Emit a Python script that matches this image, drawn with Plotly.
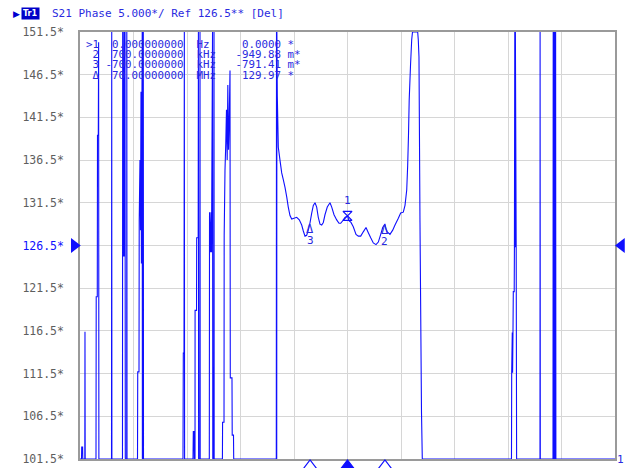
import plotly.graph_objects as go

# ---------------- data ----------------
# stimulus axis: frequency offset from centre, MHz (10 MHz span, 1 MHz/div)
FREQ_MHZ = [
    -5.000, -4.972, -4.968, -4.951, -4.948, -4.910, -4.907, -4.903,
    -4.701, -4.697, -4.677, -4.673, -4.658, -4.652, -4.647,
    -4.411, -4.407, -4.404,
    -4.206, -4.202, -4.187, -4.178, -4.168, -4.159, -4.153, -4.127, -4.125, -4.121,
    -3.925, -3.921, -3.897, -3.893, -3.879, -3.869, -3.860, -3.852, -3.845, -3.837, -3.834,
    -3.819, -3.817, -3.813,
    -3.075, -3.069, -3.056, -3.050, -3.045,
    -2.888, -2.882, -2.869, -2.864, -2.850, -2.849, -2.822, -2.819, -2.791, -2.787, -2.783,
    -2.761, -2.757, -2.753,
    -2.583, -2.579, -2.561, -2.551, -2.542, -2.523, -2.518, -2.499, -2.495, -2.492,
    -2.338, -2.335, -2.308, -2.305, -2.290, -2.275, -2.262, -2.249, -2.237, -2.224, -2.211,
    -2.196, -2.191, -2.159, -2.155, -2.131, -2.127,
    -1.331, -1.327, -1.323, -1.320, -1.312, -1.293, -1.262, -1.230, -1.200, -1.168, -1.136,
    -1.107, -1.075, -1.043, -1.000, -0.950, -0.901, -0.856, -0.826, -0.794, -0.763, -0.733,
    -0.700, -0.669, -0.639, -0.607, -0.576, -0.546, -0.514, -0.482, -0.452, -0.421, -0.378,
    -0.327, -0.295, -0.252, -0.202, -0.159, -0.127, -0.090, -0.047, 0.000, 0.028, 0.065,
    0.108, 0.159, 0.202, 0.247, 0.295, 0.346, 0.389, 0.434, 0.482, 0.533, 0.576, 0.621,
    0.658, 0.700, 0.720, 0.744, 0.794, 0.845, 0.888, 0.950, 0.994, 1.043, 1.075, 1.107,
    1.125, 1.140, 1.153, 1.178, 1.200, 1.215, 1.312, 1.323, 1.336, 1.355, 1.383, 1.398,
    3.065, 3.069, 3.080, 3.086, 3.093, 3.099, 3.116, 3.120, 3.127, 3.135, 3.138, 3.153, 3.161,
    3.598, 3.600, 3.604,
    3.841, 3.845, 3.852, 3.860, 3.867, 3.875, 3.882, 3.890, 3.895,
    5.000,
]
# displayed phase, degrees (instrument clamps to the 101.5 .. 151.5 window)
PHASE_DEG = [
    101.5, 101.5, 102.9, 102.9, 101.5, 101.5, 116.4, 101.5,
    101.5, 120.5, 120.5, 139.4, 139.4, 150.3, 101.5,
    101.5, 151.5, 101.5,
    101.5, 151.5, 125.2, 151.5, 125.2, 151.5, 101.5, 101.5, 151.5, 101.5,
    101.5, 111.7, 111.7, 129.5, 136.5, 128.3, 144.5, 124.4, 138.9, 151.5, 101.5,
    101.5, 151.5, 101.5,
    101.5, 113.9, 113.9, 151.5, 101.5,
    101.5, 104.7, 104.7, 101.5, 101.5, 118.9, 118.9, 127.4, 127.4, 151.5, 101.5,
    101.5, 151.5, 101.5,
    101.5, 130.4, 125.7, 130.4, 125.7, 151.5, 101.5, 101.5, 151.5, 101.5,
    101.5, 105.8, 105.8, 127.7, 135.3, 138.5, 142.4, 136.5, 145.3, 137.7, 141.2,
    147.0, 111.0, 111.0, 104.3, 104.3, 101.5,
    101.5, 151.5, 101.5, 151.5, 144.0, 138.0, 136.5, 135.0, 134.2, 133.3, 132.2,
    131.0, 130.0, 129.6, 129.7, 129.8, 129.5, 128.9, 128.2, 127.6, 127.7, 128.3,
    129.18, 130.3, 131.2, 131.5, 131.0, 129.8, 129.0, 128.9, 129.2, 130.1, 131.0,
    131.5, 131.0, 130.1, 129.5, 129.1, 129.1, 129.4, 129.8, 129.97, 129.4, 129.2,
    128.7, 127.8, 127.6, 127.6, 128.1, 128.6, 128.0, 127.4, 126.8, 126.6, 126.9, 127.8,
    128.6, 129.02, 128.4, 128.1, 127.8, 128.3, 128.9, 129.7, 130.3, 130.4, 131.2, 133.0,
    135.9, 139.4, 143.5, 147.6, 150.6, 151.5, 151.5, 150.6, 148.6, 129.2, 107.0, 101.5,
    101.5, 111.6, 116.3, 111.6, 116.3, 121.1, 121.1, 126.3, 151.5, 126.3, 151.5, 126.3, 101.5,
    101.5, 151.5, 101.5,
    101.5, 151.5, 101.5, 151.5, 101.5, 151.5, 101.5, 151.5, 101.5,
    101.5,
]

# marker readout table
TABLE_NAMES = [">1", "2", "3", "Δ"]
TABLE_STIM = ["0.000000000", "700.0000000", "-700.0000000", "70.00000000"]
TABLE_STIM_UNIT = ["Hz", "kHz", "kHz", "MHz"]
TABLE_VALUE = ["0.0000", "-949.88", "-791.41", "129.97"]
TABLE_VALUE_UNIT = ["*", "m*", "m*", "*"]

MARKER_LABELS = ["1", "2", "3"]
MARKER_FREQ_MHZ = [0.0, 0.7, -0.7]
MARKER_REF_DEG = 129.97
MARKER_DELTA_MDEG = [0.0, -949.88, -791.41]

Y_TICKS = [101.5, 106.5, 111.5, 116.5, 121.5, 126.5, 131.5, 136.5, 141.5, 146.5, 151.5]
REF_LEVEL = 126.5
X_MIN, X_MAX = -5.0, 5.0
Y_MIN, Y_MAX = 101.5, 151.5

TITLE_TEXT = "S21 Phase 5.000*/ Ref 126.5** [Del]"

# ---------------- styling ----------------
W, H = 627, 468
ML, MR, MT, MB = 80, 12, 32, 9          # diagram frame inside the figure
PW, PH = W - ML - MR, H - MT - MB
PX_PER_X = PW / (X_MAX - X_MIN)
PX_PER_Y = PH / (Y_MAX - Y_MIN)
BLUE = "#0f0fff"
TEXT_BLUE = "#2a2ae0"
MONO = "DejaVu Sans Mono"


def px_x(px):
    return px / W


def px_y(py):
    return (H - py) / H


fig = go.Figure()

fig.add_trace(go.Scatter(
    x=FREQ_MHZ, y=PHASE_DEG, mode="lines",
    line=dict(color=BLUE, width=1.1, simplify=False),
    hoverinfo="skip", showlegend=False,
))

marker_vals = [MARKER_REF_DEG + d / 1000.0 for d in MARKER_DELTA_MDEG]

# marker 1 (active reference) symbol
fig.add_trace(go.Scatter(
    x=[MARKER_FREQ_MHZ[0]], y=[marker_vals[0]], mode="markers",
    marker=dict(symbol="hourglass-open", size=9, color=BLUE, line=dict(color=BLUE, width=1.3)),
    hoverinfo="skip", showlegend=False,
))

# full-figure overlay axes with the same scale, for the symbols around the frame
fig.add_trace(go.Scatter(
    x=MARKER_FREQ_MHZ, y=[Y_MIN - 7 / PX_PER_Y] * 3, mode="markers",
    xaxis="x2", yaxis="y2",
    marker=dict(symbol=["triangle-up", "triangle-up-open", "triangle-up-open"], size=12,
                color=BLUE, line=dict(color=BLUE, width=1.2)),
    hoverinfo="skip", showlegend=False,
))
fig.add_trace(go.Scatter(
    x=[X_MIN - 5.75 / PX_PER_X, X_MAX + 6.5 / PX_PER_X], y=[REF_LEVEL, REF_LEVEL],
    mode="markers", xaxis="x2", yaxis="y2",
    marker=dict(symbol=["triangle-right", "triangle-left"], size=13, color=BLUE, line=dict(width=0)),
    hoverinfo="skip", showlegend=False,
))

annotations = []

# marker labels
annotations.append(dict(x=MARKER_FREQ_MHZ[0], y=marker_vals[0], xref="x", yref="y",
                        text=MARKER_LABELS[0], showarrow=False, yanchor="bottom", yshift=7,
                        font=dict(family=MONO, size=11, color=TEXT_BLUE)))
for i in (1, 2):
    annotations.append(dict(x=MARKER_FREQ_MHZ[i], y=marker_vals[i], xref="x", yref="y",
                            text="Δ", showarrow=False, yanchor="top", yshift=2, borderpad=0,
                            font=dict(family=MONO, size=12, color=TEXT_BLUE)))
    annotations.append(dict(x=MARKER_FREQ_MHZ[i], y=marker_vals[i], xref="x", yref="y",
                            text=MARKER_LABELS[i], showarrow=False, yanchor="top", yshift=-10,
                            borderpad=0, font=dict(family=MONO, size=11, color=TEXT_BLUE)))

# marker table
NB = "\u00a0"
row_py = [44, 54.5, 65, 75.5]
for i in range(4):
    s = (TABLE_NAMES[i].rjust(2) + " " + TABLE_STIM[i].rjust(12) + "  " +
         TABLE_STIM_UNIT[i].ljust(3) + TABLE_VALUE[i].rjust(10) + " " + TABLE_VALUE_UNIT[i])
    annotations.append(dict(x=px_x(85), y=px_y(row_py[i]), xref="paper", yref="paper",
                            text=s.replace(" ", NB), showarrow=False, xanchor="left",
                            yanchor="middle", borderpad=0,
                            font=dict(family=MONO, size=10.8, color=TEXT_BLUE)))

# title line
annotations.append(dict(x=px_x(12), y=px_y(13.5), xref="paper", yref="paper", text="▶",
                        showarrow=False, xanchor="left", yanchor="middle", borderpad=0,
                        font=dict(family="DejaVu Sans", size=9, color="#0000d0")))
annotations.append(dict(x=px_x(20.5), y=px_y(13.5), xref="paper", yref="paper", text="<b>Tr1</b>",
                        showarrow=False, xanchor="left", yanchor="middle", borderpad=1,
                        bgcolor="#0000c8",
                        font=dict(family="DejaVu Sans", size=8, color="white")))
annotations.append(dict(x=px_x(50.5), y=px_y(13.5), xref="paper", yref="paper",
                        text=TITLE_TEXT.replace(" ", NB), showarrow=False, xanchor="left",
                        yanchor="middle", borderpad=0,
                        font=dict(family=MONO, size=11, color=TEXT_BLUE)))

# trace number at end of trace
annotations.append(dict(x=X_MAX, y=Y_MIN, xref="x", yref="y", text="1", showarrow=False,
                        xanchor="left", yanchor="middle", xshift=1, borderpad=0,
                        font=dict(family=MONO, size=11, color=TEXT_BLUE)))

tick_text = []
for v in Y_TICKS:
    lab = f"{v:.1f}*"
    if v == REF_LEVEL:
        lab = f"<span style='color:{BLUE}'>{lab}</span>"
    tick_text.append(lab)

fig.update_layout(
    width=W, height=H, autosize=False,
    margin=dict(l=0, r=0, t=0, b=0, pad=0, autoexpand=False),
    paper_bgcolor="white", plot_bgcolor="rgba(0,0,0,0)",
    showlegend=False,
    annotations=annotations,
    xaxis=dict(domain=[ML / W, (W - MR) / W], anchor="y",
               range=[X_MIN, X_MAX], dtick=1, tick0=X_MIN, showticklabels=False, ticks="",
               automargin=False,
               showgrid=True, gridcolor="#d6d6d6", gridwidth=1, zeroline=False,
               showline=True, linecolor="#9a9a9a", linewidth=1.5, mirror=True,
               layer="below traces", fixedrange=True),
    yaxis=dict(domain=[MB / H, (H - MT) / H], anchor="x",
               range=[Y_MIN, Y_MAX], tickvals=Y_TICKS, ticktext=tick_text, ticks="",
               ticklabelstandoff=12, automargin=False,
               tickfont=dict(family=MONO, size=11.5, color="#5e5e5e"),
               showgrid=True, gridcolor="#d6d6d6", gridwidth=1, zeroline=False,
               showline=True, linecolor="#9a9a9a", linewidth=1.5, mirror=True,
               layer="below traces", fixedrange=True),
    xaxis2=dict(domain=[0, 1], anchor="y2", visible=False, fixedrange=True,
                range=[X_MIN - ML / PX_PER_X, X_MAX + MR / PX_PER_X]),
    yaxis2=dict(domain=[0, 1], anchor="x2", visible=False, fixedrange=True,
                range=[Y_MIN - MB / PX_PER_Y, Y_MAX + MT / PX_PER_Y]),
)

fig.write_html(
    "out.html",
    config={"displayModeBar": False},
    post_script="document.body.style.margin='0';document.body.style.padding='0';"
                "document.body.style.overflow='hidden';",
)
